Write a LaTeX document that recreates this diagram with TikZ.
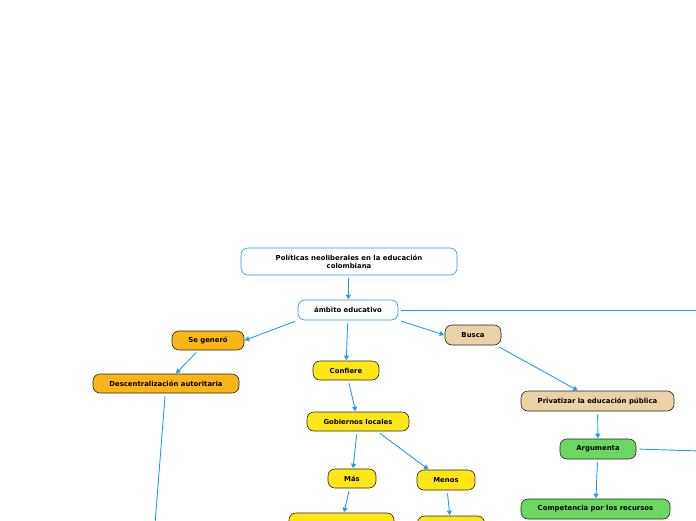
\documentclass[tikz,border=0pt]{standalone}
\usepackage{fontspec}
\setmainfont{DejaVu Sans}
\usepackage{tikz}
\usetikzlibrary{arrows.meta}

\definecolor{linkblue}{HTML}{2A9BDF}
\definecolor{orangebox}{HTML}{FBB516}
\definecolor{yellowbox}{HTML}{FFE614}
\definecolor{tanbox}{HTML}{E9D3A6}
\definecolor{greenbox}{HTML}{6BD862}

\tikzset{
	mapbox/.style={draw=black!85, line width=0.6pt, rounded corners=7pt, minimum height=19pt, inner sep=1pt, align=center, font=\fontsize{6.9}{8}\selectfont\bfseries},
	rootbox/.style={mapbox, draw=linkblue, fill=white},
	link/.style={draw=linkblue, line width=0.9pt, -{Triangle[length=4.5pt,width=5pt]}, shorten <=3pt, shorten >=0.5pt},
	plainlink/.style={draw=linkblue, line width=0.9pt, shorten <=3pt}
}

\begin{document}
\begin{tikzpicture}[x=1pt,y=-1pt]
				\useasboundingbox (0,0) rectangle (696,520);
				\clip (0,0) rectangle (696,520);
				% central topic
				\node[rootbox, minimum width=216pt, minimum height=27pt] (pol) at (349,261.5) {Políticas neoliberales en la educación\\colombiana};
				\node[rootbox, minimum width=100pt, minimum height=20pt] (amb) at (348,310) {ámbito educativo};
				% left branch
				\node[mapbox, fill=orangebox, minimum width=72pt] (segen) at (208,340.5) {Se generó};
				\node[mapbox, fill=orangebox, minimum width=146pt] (desc) at (166,383.5) {Descentralización autoritaria};
				% middle branch
				\node[mapbox, fill=yellowbox, minimum width=66pt] (conf) at (346,370.5) {Confiere};
				\node[mapbox, fill=yellowbox, minimum width=102pt] (gob) at (358,421.5) {Gobiernos locales};
				\node[mapbox, fill=yellowbox, minimum width=48pt] (mas) at (352,478.5) {Más};
				\node[mapbox, fill=yellowbox, minimum width=58pt, minimum height=20pt] (menos) at (446,480) {Menos};
				\node[mapbox, fill=yellowbox, minimum width=105pt, minimum height=20pt] (masbox) at (341.5,523) {};
				\node[mapbox, fill=yellowbox, minimum width=67pt, minimum height=20pt] (menosbox) at (451,526) {};
				% right branch
				\node[mapbox, fill=tanbox, minimum width=56pt, minimum height=20pt] (busca) at (473,335) {Busca};
				\node[mapbox, fill=tanbox, minimum width=153pt, minimum height=20pt] (priv) at (597.5,401) {Privatizar la educación pública};
				\node[mapbox, fill=greenbox, minimum width=76pt, minimum height=20pt] (arg) at (598,449) {Argumenta};
				\node[mapbox, fill=greenbox, minimum width=149pt, minimum height=20pt] (comp) at (595.5,509) {Competencia por los recursos};
				% loose ends running off the page
				\coordinate (ambout) at (700,310);
				\coordinate (argout) at (700,451);
				\coordinate (descout) at (155,524);
				% connectors
				\draw[link] (pol) -- (amb);
				\draw[plainlink] (amb.east) -- (ambout);
				\draw[link] (amb.south west) -- (segen.east);
				\draw[link] (amb) -- (conf);
				\draw[link] (amb.south east) -- (busca.west);
				\draw[link] (segen) -- (desc);
				\draw[plainlink] (desc) -- (descout);
				\draw[link] (conf) -- (gob);
				\draw[link] (gob) -- (mas);
				\draw[link] (gob.-27) -- (menos.149);
				\draw[link] (mas) -- (masbox);
				\draw[link] (menos) -- (menosbox);
				\draw[link] (busca.-24) -- (priv.152);
				\draw[link] (priv) -- (arg);
				\draw[plainlink] (arg.east) -- (argout);
				\draw[link] (arg) -- (comp);
			\end{tikzpicture}
\end{document}
